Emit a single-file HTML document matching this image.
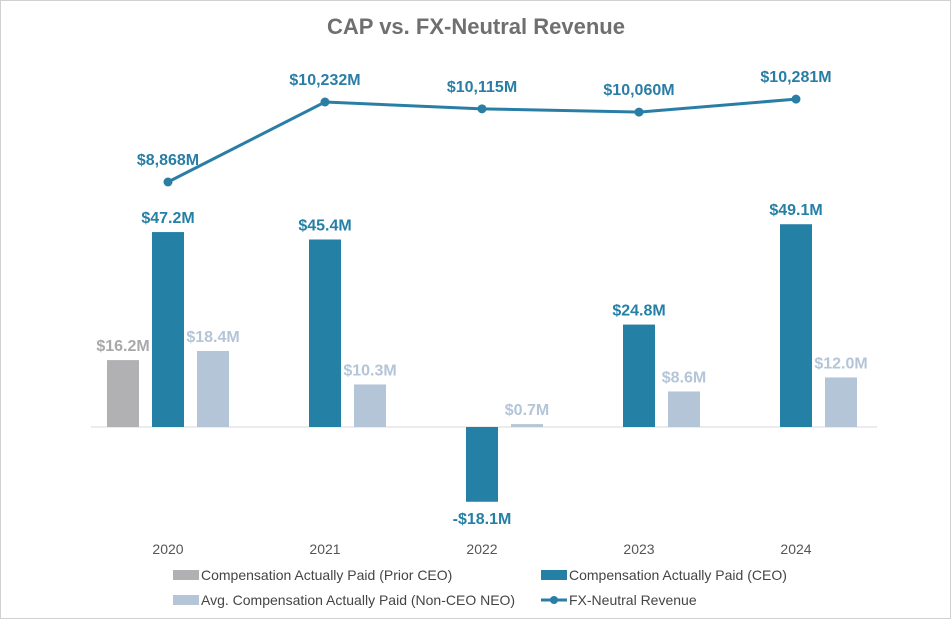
<!DOCTYPE html>
<html><head><meta charset="utf-8">
<style>
html,body{margin:0;padding:0;background:#fff;}
#wrap{position:relative;width:951px;height:619px;box-sizing:border-box;border:1px solid #d0d0d0;background:#fff;font-family:"Liberation Sans",Arial,sans-serif;}
svg{position:absolute;left:0;top:0;}
</style></head>
<body>
<div id="wrap">
<svg id="chart" width="951" height="619"></svg>
</div>
<script>
const years = ["2020","2021","2022","2023","2024"];
const priorCeo = [16.2, null, null, null, null];
const ceo = [47.2, 45.4, -18.1, 24.8, 49.1];
const nonCeo = [18.4, 10.3, 0.7, 8.6, 12.0];
const revenue = [8868, 10232, 10115, 10060, 10281];

const NS="http://www.w3.org/2000/svg";
const svg=document.getElementById('chart');
function mk(tag,attrs,parent){const e=document.createElementNS(NS,tag);for(const k in attrs)e.setAttribute(k,attrs[k]);(parent||svg).appendChild(e);return e;}
const baseY=426, pxPerM=4.13;
function yBar(v){return baseY - v*pxPerM;}
function xCat(i){return 167 + i*157;}
function yRev(v){return 181 - (v-8868)*0.05865;}
const C_CEO="#2580a6", C_PRI="#b1b1b4", C_NON="#b4c5d8", C_LINE="#2a7ea6";
function fmtM(v){return (v<0?"-$":"$")+Math.abs(v).toFixed(1)+"M";}
function fmtRev(v){return "$"+v.toLocaleString("en-US")+"M";}

let t=mk('text',{x:475,y:33,'text-anchor':'middle','font-size':22,'font-weight':'bold',fill:'#6f6f6f'});
t.textContent="CAP vs. FX-Neutral Revenue";



let ax=mk('line',{x1:90,x2:876,y1:baseY,y2:baseY,stroke:'#d9d9d9','stroke-width':1});



function bar(i,v,off,color,lblColor,name){
  if(v===null)return;
  const cx=xCat(i)+off, y0=yBar(Math.max(v,0)), y1=yBar(Math.min(v,0));
  const r=mk('rect',{x:cx-16,y:y0,width:32,height:Math.max(y1-y0,1),fill:color});
  
  
  const ly = v>=0 ? y0-9 : y1+22;
  const l=mk('text',{x:cx,y:ly,'text-anchor':'middle','font-size':16,'font-weight':'bold',fill:lblColor});
  l.textContent=fmtM(v);
  
  
}
years.forEach((yr,i)=>{
  bar(i,priorCeo[i],-45,C_PRI,'#a9a9ab','prior-ceo');
  bar(i,ceo[i],0,C_CEO,C_CEO,'ceo');
  bar(i,nonCeo[i],45,C_NON,C_NON,'non-ceo');
  const yl=mk('text',{x:xCat(i),y:553,'text-anchor':'middle','font-size':14,fill:'#555'});
  yl.textContent=yr;
  
  
});
const pts=revenue.map((v,i)=>xCat(i)+','+yRev(v)).join(' ');
const pl=mk('polyline',{points:pts,fill:'none',stroke:C_LINE,'stroke-width':3});


revenue.forEach((v,i)=>{
  const c=mk('circle',{cx:xCat(i),cy:yRev(v),r:4.5,fill:C_LINE});
  
  
  const l=mk('text',{x:xCat(i),y:yRev(v)-17,'text-anchor':'middle','font-size':16,'font-weight':'bold',fill:C_LINE});
  l.textContent=fmtRev(v);
  
  
});
function legend(x,y,type,color,text,name){
  const g=mk('g',{});
  
  
  if(type==='bar'){mk('rect',{x:x,y:y-5,width:26,height:10,fill:color},g);}
  else{mk('line',{x1:x,x2:x+26,y1:y,y2:y,stroke:color,'stroke-width':3},g);mk('circle',{cx:x+13,cy:y,r:4,fill:color},g);}
  const tx=mk('text',{x:x+28,y:y+5,'font-size':14,fill:'#444'},g);
  tx.textContent=text;
}
legend(172,574,'bar',C_PRI,'Compensation Actually Paid (Prior CEO)','legend-prior-ceo');
legend(540,574,'bar',C_CEO,'Compensation Actually Paid (CEO)','legend-ceo');
legend(172,599,'bar',C_NON,'Avg. Compensation Actually Paid (Non-CEO NEO)','legend-non-ceo');
legend(540,599,'line',C_LINE,'FX-Neutral Revenue','legend-revenue');
</script>
</body></html>
